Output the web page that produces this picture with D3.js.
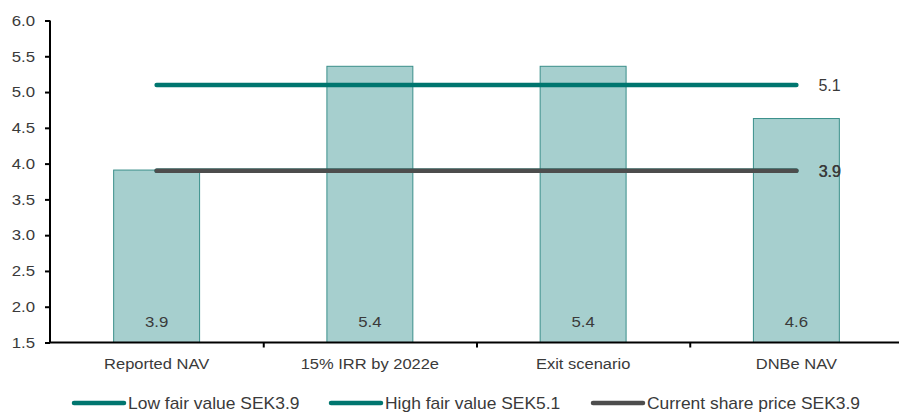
<!DOCTYPE html>
<html>
<head>
<meta charset="utf-8">
<script src="https://cdn.jsdelivr.net/npm/d3@7"></script>
<style>
  html, body { margin: 0; padding: 0; background: #ffffff; }
  svg { display: block; font-family: "Liberation Sans", Arial, sans-serif; }
</style>
</head>
<body>
<svg id="chart" width="899" height="412"></svg>
<script>
// Valuation scenarios (SEK per share)
const categories = ["Reported NAV", "15% IRR by 2022e", "Exit scenario", "DNBe NAV"];
const navValues = [3.91, 5.36, 5.36, 4.63];

// Reference lines: low fair value, high fair value, current share price
const lineNames = ["Low fair value SEK3.9", "High fair value SEK5.1", "Current share price SEK3.9"];
const lineValues = [3.9, 5.1, 3.9];
const lineColors = ["#00766f", "#00766f", "#4d4d4d"];

const yTicks = [1.5, 2.0, 2.5, 3.0, 3.5, 4.0, 4.5, 5.0, 5.5, 6.0];

const svg = d3.select("#chart");
const plotLeft = 50, plotRight = 903, plotTop = 20.5, plotBottom = 342.5;
const textColor = "#3a3a3a";
const barFill = "#a6cfce", barStroke = "#3a8f8a";

const x = d3.scaleBand().domain(categories).range([plotLeft, plotRight]).padding(0);
const y = d3.scaleLinear().domain([1.5, 6.0]).range([plotBottom, plotTop]);
const fmt = d3.format(".1f");

// Bars
const barW = x.bandwidth() * 0.403;
svg.append("g").selectAll("rect")
  .data(navValues)
  .join("rect")
  .attr("x", (d, i) => x(categories[i]) + (x.bandwidth() - barW) / 2)
  .attr("y", d => y(d))
  .attr("width", barW)
  .attr("height", d => y(1.5) - y(d))
  .attr("fill", barFill)
  .attr("stroke", barStroke)
  .attr("stroke-width", 1);

// Value labels at the foot of each bar
const sxSmall = 1.12;
svg.append("g").selectAll("text")
  .data(navValues)
  .join("text")
  .attr("transform", (d, i) => `translate(${x(categories[i]) + x.bandwidth() / 2},327) scale(${sxSmall},1)`)
  .attr("text-anchor", "middle")
  .attr("font-size", 15)
  .attr("fill", textColor)
  .text(d => fmt(d));

// Reference lines spanning first to last category centre
const centre = c => x(c) + x.bandwidth() / 2;
const line = d3.line().x(d => centre(d.c)).y(d => y(d.v));
const drawOrder = [0, 2, 1];
drawOrder.forEach(k => {
  const pts = [categories[0], categories[categories.length - 1]].map(c => ({ c, v: lineValues[k] }));
  svg.append("path")
    .attr("d", line(pts))
    .attr("fill", "none")
    .attr("stroke", lineColors[k])
    .attr("stroke-width", 4.5)
    .attr("stroke-linecap", "round");
});

// End labels for the reference lines
lineValues.forEach((v, k) => {
  svg.append("text")
    .attr("x", centre(categories[categories.length - 1]) + 22 + (k === 2 ? 0.6 : 0))
    .attr("y", y(v))
    .attr("dy", "0.36em")
    .attr("font-size", 16)
    .attr("fill", textColor)
    .text(fmt(v));
});

// Y axis
const yAxis = svg.append("g")
  .attr("transform", `translate(${plotLeft},0)`)
  .call(d3.axisLeft(y).tickValues(yTicks).tickFormat(fmt).tickSize(5).tickPadding(8));
yAxis.select(".domain").attr("stroke", "#000").attr("stroke-width", 2)
  .attr("d", `M0,${plotTop}V${plotBottom}`);
yAxis.selectAll(".tick line").attr("stroke", "#000").attr("stroke-width", 2);
yAxis.selectAll(".tick text")
  .attr("x", -15 / sxSmall)
  .attr("transform", `scale(${sxSmall},1)`)
  .attr("font-size", 15)
  .attr("font-family", "Liberation Sans, Arial, sans-serif")
  .attr("fill", textColor);

// X axis: boundary ticks between categories
const bounds = d3.scaleLinear().domain([0, categories.length]).range([plotLeft, plotRight]);
const xTicks = svg.append("g")
  .attr("transform", `translate(0,${plotBottom})`)
  .call(d3.axisBottom(bounds).tickValues([1, 2, 3]).tickSize(5).tickFormat(""));
xTicks.select(".domain").attr("stroke", "#000").attr("stroke-width", 2)
  .attr("d", `M${plotLeft - 1},0H${plotRight}`);
xTicks.selectAll(".tick line").attr("stroke", "#000").attr("stroke-width", 2);

// X axis: category labels
const sxCat = 1.1;
const xLabels = svg.append("g")
  .attr("transform", `translate(0,${plotBottom})`)
  .call(d3.axisBottom(x).tickSize(0).tickPadding(0));
xLabels.select(".domain").remove();
xLabels.selectAll(".tick text")
  .attr("y", 26.5)
  .attr("dy", 0)
  .attr("transform", `scale(${sxCat},1)`)
  .attr("x", 0)
  .attr("font-size", 15)
  .attr("font-family", "Liberation Sans, Arial, sans-serif")
  .attr("fill", textColor);

// Legend
const legendX = [73, 330, 592];
const legendY = 403;
const sxLeg = 1.09;
const legend = svg.append("g");
lineNames.forEach((name, k) => {
  const g = legend.append("g").attr("transform", `translate(${legendX[k]},${legendY})`);
  g.append("line")
    .attr("x1", 1).attr("x2", 51)
    .attr("y1", 0).attr("y2", 0)
    .attr("stroke", lineColors[k])
    .attr("stroke-width", 4.5)
    .attr("stroke-linecap", "round");
  g.append("text")
    .attr("transform", `translate(55,5.7) scale(${sxLeg},1)`)
    .attr("font-size", 16)
    .attr("fill", textColor)
    .text(name);
});
</script>
</body>
</html>
